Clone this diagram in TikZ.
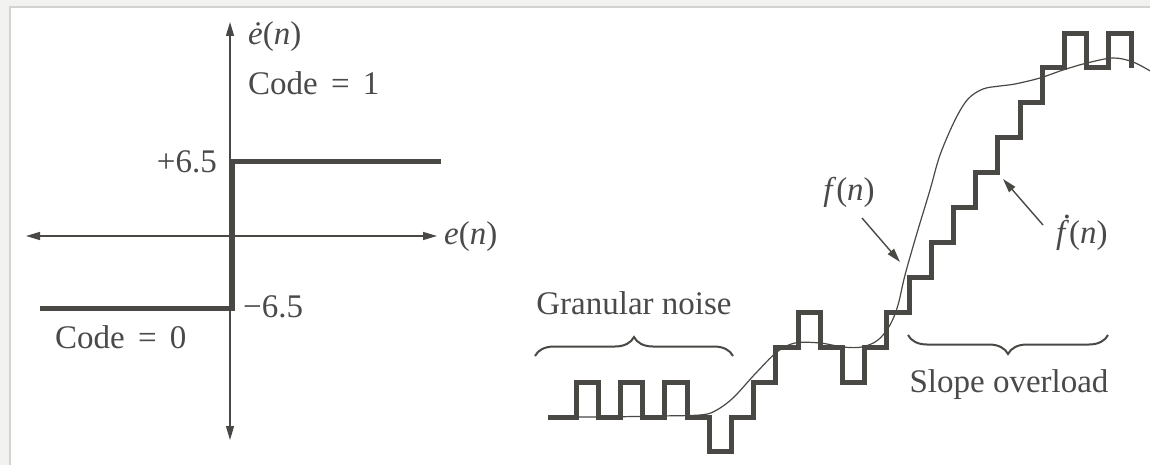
\documentclass[tikz,border=0pt]{standalone}
\usepackage{fontspec}
\setmainfont{Liberation Serif}
\usetikzlibrary{arrows.meta,decorations.pathreplacing}
\definecolor{ink}{HTML}{4A4845}
\definecolor{txt}{HTML}{4A4A4A}
\definecolor{bgc}{HTML}{F2F2F1}
\definecolor{framec}{HTML}{D2D2D2}
\newcommand{\fdotglyph}{\makebox[0pt][l]{\hspace{0.2em}\raisebox{0.74em}{.}}\textit{f}}
\newcommand{\eqsign}{\hspace{0.15em}=\hspace{0.15em}}
\begin{document}
\begin{tikzpicture}[x=1pt,y=-1pt,
  lbl/.style={text=txt,font=\fontsize{33}{38}\selectfont,inner sep=0pt},
  axis/.style={draw=ink,line width=1.3pt,{Triangle[length=14pt,width=8pt]}-{Triangle[length=14pt,width=8pt]}},
  thickline/.style={draw=ink,line width=5pt,line join=miter},
  thinline/.style={draw=ink,line width=1.2pt},
  pointer/.style={draw=ink,line width=1.4pt,-{Triangle[length=14pt,width=8pt]}},
  brc/.style={draw=ink,line width=2pt,decorate,decoration={brace,amplitude=19pt}}]
\useasboundingbox (0,0) rectangle (1150,465);
\fill[bgc] (0,0) rectangle (1150,465);
\filldraw[fill=white,draw=framec,line width=1.2pt] (10,7) rectangle (1160,475);

% ---- left: quantiser characteristic
\coordinate (vt) at (230,22);
\coordinate (vb) at (230,440);
\coordinate (hl) at (26,236);
\coordinate (hr) at (437,236);
\draw[axis] (vb) -- (vt);
\draw[axis] (hl) -- (hr);
\draw[thickline] (40,308) -- (232,308) -- (232,162) -- (441,162);

\node[lbl,anchor=west] (edot) at (248,37) {\textit{\.{e}}(\textit{n})};
\node[lbl,anchor=west] (code1) at (248,83) {Code \eqsign{} 1};
\node[lbl,anchor=east] (p65) at (217,162) {+6.5};
\node[lbl,anchor=west] (m65) at (243,307) {−6.5};
\node[lbl,anchor=west] (en) at (444,237) {\textit{e}(\textit{n})};
\node[lbl,anchor=west] (code0) at (55,337) {Code \eqsign{} 0};

% ---- right: delta modulation staircase
\draw[thinline] plot[smooth,tension=0.55] coordinates {(548,417) (600,417) (660,416) (700,415) (715,411) (733,398) (755,374) (777,352) (795,343) (820,343) (843,347) (862,347) (878,340) (890,325) (898,305) (905,275) (917,233) (930,190) (940,155) (955,120) (968,99) (983,89) (1000,86) (1015,84) (1040,78) (1063,70) (1087,63) (1113,58) (1133,62) (1152,72)};

\draw[thickline] (548,417) -- (576,417) -- (576,382.1)
 -- (598.2,382.1) -- (598.2,417) -- (620.4,417) -- (620.4,382.1)
 -- (642.6,382.1) -- (642.6,417) -- (664.8,417) -- (664.8,382.1)
 -- (687,382.1) -- (687,417) -- (709.2,417) -- (709.2,451.9)
 -- (731.4,451.9) -- (731.4,417) -- (753.6,417) -- (753.6,382.1)
 -- (775.8,382.1) -- (775.8,347.2) -- (798,347.2) -- (798,312.3)
 -- (820.2,312.3) -- (820.2,347.2) -- (842.4,347.2) -- (842.4,382.1)
 -- (864.6,382.1) -- (864.6,347.2) -- (886.8,347.2) -- (886.8,312.3)
 -- (909,312.3) -- (909,277.4) -- (931.2,277.4) -- (931.2,242.5)
 -- (953.4,242.5) -- (953.4,207.6) -- (975.6,207.6) -- (975.6,172.7)
 -- (997.8,172.7) -- (997.8,137.8) -- (1020,137.8) -- (1020,102.9)
 -- (1042.2,102.9) -- (1042.2,68) -- (1064.4,68) -- (1064.4,33.1)
 -- (1086.6,33.1) -- (1086.6,68) -- (1108.8,68) -- (1108.8,33.1)
 -- (1131,33.1) -- (1131,68);

\node[lbl] (fn) at (849,192) {\textit{f}(\textit{n})};
\coordinate (fa) at (862,218);
\coordinate (fb) at (900,262);
\draw[pointer] (fa) -- (fb);

\node[lbl,anchor=west] (fdn) at (1056,233) {\fdotglyph(\textit{n})};
\coordinate (ga) at (1043,225);
\coordinate (gb) at (1003,179);
\draw[pointer] (ga) -- (gb);

\node[lbl] (gn) at (634,303) {Granular noise};
\coordinate (g1) at (535,356);
\coordinate (g2) at (733,356);
\draw[brc] (g1) -- (g2);

\node[lbl] (so) at (1009,385) {Slope overload};
\coordinate (s1) at (1108,335);
\coordinate (s2) at (908,335);
\draw[brc] (s1) -- (s2);
\end{tikzpicture}
\end{document}
